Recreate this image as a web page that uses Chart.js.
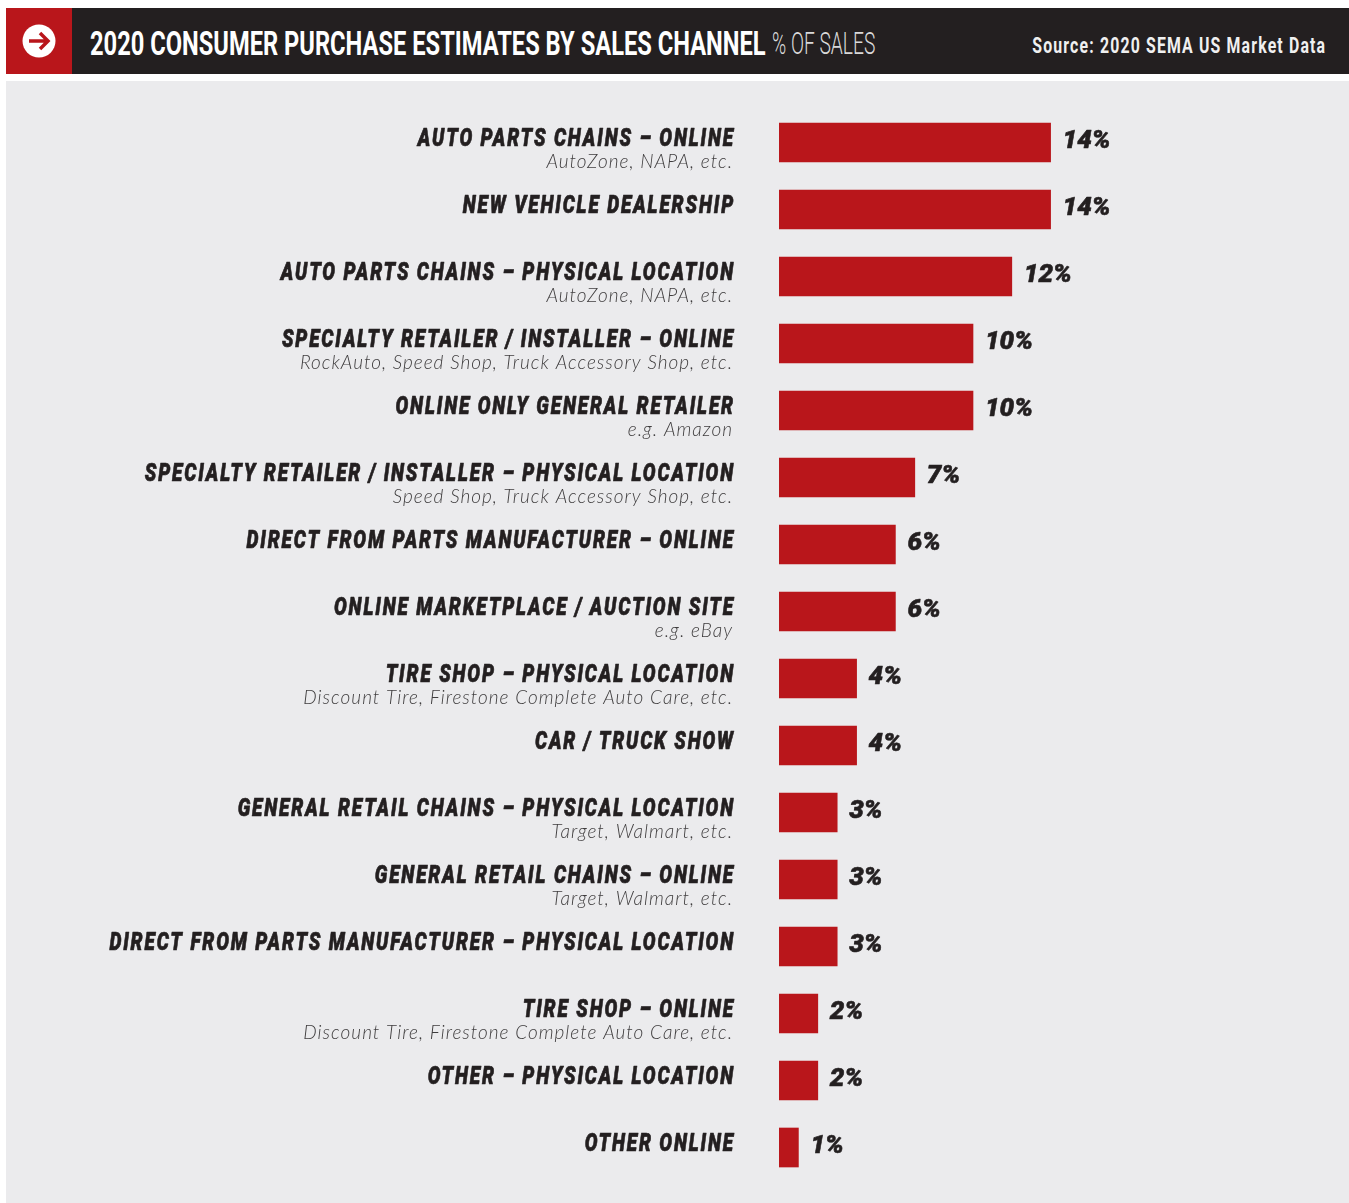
<!DOCTYPE html>
<html>
<head>
<meta charset="utf-8">
<title>2020 Consumer Purchase Estimates by Sales Channel</title>
<script src="https://cdn.jsdelivr.net/npm/chart.js@4/dist/chart.umd.min.js"></script>
<style>
    html, body { margin: 0; padding: 0; background: #fff; }
    #page { position: relative; width: 1349px; height: 1203px; overflow: hidden; }
    #header { position: absolute; left: 6px; top: 8px; width: 1343px; height: 66px; background: #231f20; }
    #badge { position: absolute; left: 0; top: 0; width: 66px; height: 66px; background: #b9161b; }
    #badge svg { position: absolute; left: 16px; top: 16px; }
    #title, #unit, #source { position: absolute; white-space: nowrap; font-family: Roboto, sans-serif; }
    #title { left: 84px; top: 15px; font-size: 34px; line-height: 40px; font-weight: 700; color: #fff; transform: scaleX(0.6965); transform-origin: left center; }
    #unit { left: 766px; top: 17px; font-size: 31px; line-height: 38px; font-weight: 300; color: #d9d9d9; transform: scaleX(0.62); transform-origin: left center; }
    #source { right: 23px; top: 24px; font-size: 22px; line-height: 28px; font-weight: 700; letter-spacing: 1.6px; color: #f0f0f0; transform: scaleX(0.72); transform-origin: right center; }
    #panel { position: absolute; left: 6px; top: 81px; width: 1343px; height: 1122px; background: #ebebed; }
    #chart { position: absolute; left: 0; top: 0; }
</style>
</head>
<body>
<div id="page">
    <div id="header">
        <div id="badge">
            <svg width="34" height="34" viewBox="0 0 34 34">
                <circle cx="17" cy="17" r="16.5" fill="#fff"/>
                <path d="M7 17H26M18 9l8 8-8 8" fill="none" stroke="#b9161b" stroke-width="3.5"/>
            </svg>
        </div>
        <div id="title">2020 CONSUMER PURCHASE ESTIMATES BY SALES CHANNEL</div>
        <div id="unit">% OF SALES</div>
        <div id="source">Source: 2020 SEMA US Market Data</div>
    </div>
    <div id="panel"></div>
    <canvas id="chart" width="1349" height="1203"></canvas>
</div>
<script>
const categories = [
    'AUTO PARTS CHAINS – ONLINE',
    'NEW VEHICLE DEALERSHIP',
    'AUTO PARTS CHAINS – PHYSICAL LOCATION',
    'SPECIALTY RETAILER / INSTALLER – ONLINE',
    'ONLINE ONLY GENERAL RETAILER',
    'SPECIALTY RETAILER / INSTALLER – PHYSICAL LOCATION',
    'DIRECT FROM PARTS MANUFACTURER – ONLINE',
    'ONLINE MARKETPLACE / AUCTION SITE',
    'TIRE SHOP – PHYSICAL LOCATION',
    'CAR / TRUCK SHOW',
    'GENERAL RETAIL CHAINS – PHYSICAL LOCATION',
    'GENERAL RETAIL CHAINS – ONLINE',
    'DIRECT FROM PARTS MANUFACTURER – PHYSICAL LOCATION',
    'TIRE SHOP – ONLINE',
    'OTHER – PHYSICAL LOCATION',
    'OTHER ONLINE'
];

const examples = [
    'AutoZone, NAPA, etc.',
    '',
    'AutoZone, NAPA, etc.',
    'RockAuto, Speed Shop, Truck Accessory Shop, etc.',
    'e.g. Amazon',
    'Speed Shop, Truck Accessory Shop, etc.',
    '',
    'e.g. eBay',
    'Discount Tire, Firestone Complete Auto Care, etc.',
    '',
    'Target, Walmart, etc.',
    'Target, Walmart, etc.',
    '',
    'Discount Tire, Firestone Complete Auto Care, etc.',
    '',
    ''
];

const shares = [14, 14, 12, 10, 10, 7, 6, 6, 4, 4, 3, 3, 3, 2, 2, 1];

const RED = '#b9161b';
const INK = '#231f20';
const LABEL_RIGHT = 735;

// Channel names, their sublines and the percentages at the bar ends
const barTextPlugin = {
    id: 'barText',
    afterDatasetsDraw(chart) {
        const ctx = chart.ctx;
        const xScale = chart.scales.x;
        const yScale = chart.scales.y;

        ctx.save();
        ctx.textBaseline = 'middle';
        ctx.textAlign = 'right';
        ctx.fillStyle = INK;
        ctx.strokeStyle = INK;
        ctx.lineJoin = 'round';
        ctx.font = 'italic 900 25px Roboto, sans-serif';
        ctx.letterSpacing = '2.45px';
        categories.forEach((text, i) => {
            // no condensed face is installed, so squeeze the black one
            ctx.save();
            ctx.translate(LABEL_RIGHT, yScale.getPixelForValue(i) - 3);
            ctx.scale(0.76, 1);
            ctx.lineWidth = 0.7;
            ctx.strokeText(text, 0, 0);
            ctx.fillText(text, 0, 0);
            ctx.restore();
        });

        ctx.fillStyle = '#3f3d3e';
        ctx.font = 'italic 300 19px Lato, sans-serif';
        ctx.letterSpacing = '1px';
        examples.forEach((text, i) => {
            if (text) ctx.fillText(text, LABEL_RIGHT - 2, yScale.getPixelForValue(i) + 19.5);
        });

        ctx.textAlign = 'left';
        ctx.fillStyle = INK;
        ctx.font = 'italic 900 26px Roboto, sans-serif';
        ctx.letterSpacing = '0px';
        ctx.lineWidth = 0.6;
        shares.forEach((value, i) => {
            const x = xScale.getPixelForValue(value) + 12;
            const y = yScale.getPixelForValue(i) - 1;
            ctx.strokeText(value + '%', x, y);
            ctx.fillText(value + '%', x, y);
        });
        ctx.restore();
    }
};

new Chart(document.getElementById('chart').getContext('2d'), {
    type: 'bar',
    data: {
        labels: categories,
        datasets: [{
            data: shares,
            backgroundColor: RED,
            barThickness: 39
        }]
    },
    options: {
        indexAxis: 'y',
        responsive: false,
        animation: false,
        layout: { padding: { top: 109, bottom: 22, left: 0, right: 85 } },
        plugins: {
            legend: { display: false },
            tooltip: { enabled: false }
        },
        scales: {
            x: {
                display: false,
                min: 0,
                max: 25
            },
            y: {
                afterFit(scale) { scale.width = 779; },
                border: { display: false },
                grid: { display: false, drawTicks: false },
                ticks: { display: false }
            }
        }
    },
    plugins: [barTextPlugin]
});
</script>
</body>
</html>
